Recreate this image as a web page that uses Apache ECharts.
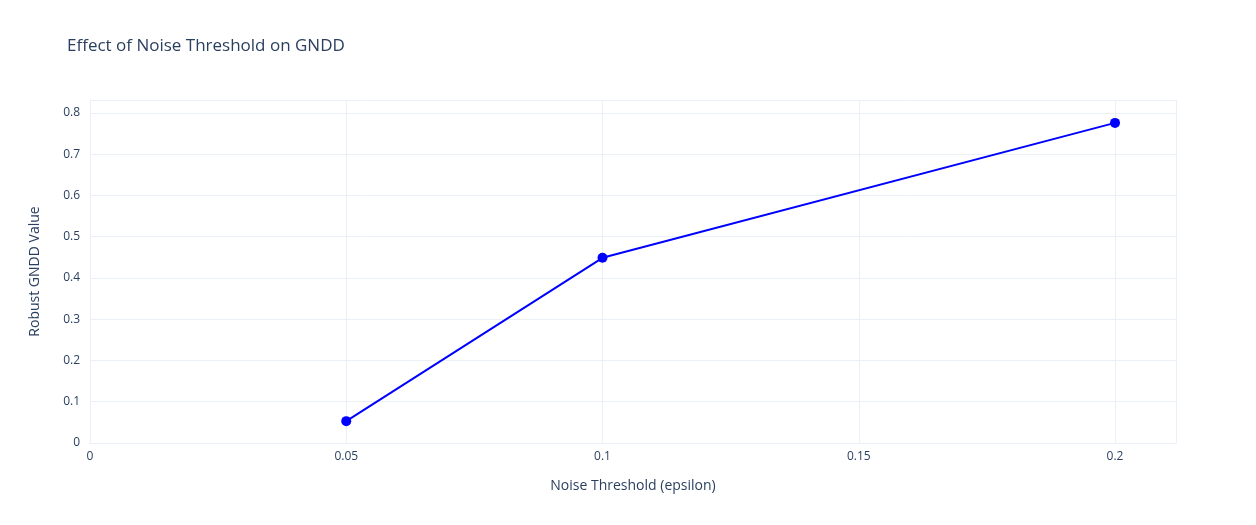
<!DOCTYPE html>
<html><head><meta charset="utf-8">
<script src="https://cdn.jsdelivr.net/npm/echarts@6/dist/echarts.min.js"></script>
<style>html,body{margin:0;padding:0;background:#fff}#c{width:1256px;height:525px}</style>
</head><body><div id="c"></div>
<script>
const epsilon = [0.05, 0.1, 0.2];
const gndd = [0.053, 0.449, 0.776];
const xTicks = [0, 0.05, 0.1, 0.15, 0.2];
const yTicks = [0, 0.1, 0.2, 0.3, 0.4, 0.5, 0.6, 0.7, 0.8];
const chart = echarts.init(document.getElementById('c'));
const font = '"Open Sans", Verdana, Arial, sans-serif';
chart.setOption({
  animation: false,
  textStyle: {fontFamily: font},
  title: {text: 'Effect of Noise Threshold on GNDD', left: 62, top: 33,
    textStyle: {fontSize: 17, fontWeight: 'normal', color: '#2a3f5f', fontFamily: font}},
  grid: {left: 90, right: 80, top: 100, bottom: 82},
  xAxis: {type: 'value', min: 0, max: 0.2119, interval: 0.05,
    name: 'Noise Threshold (epsilon)', nameLocation: 'middle', nameGap: 36,
    nameTextStyle: {fontSize: 14, color: '#2a3f5f'},
    axisLine: {show: true, lineStyle: {color: '#ebf0f8'}}, axisTick: {show: false},
    axisLabel: {color: '#2a3f5f', fontSize: 12, margin: 8,
      formatter: v => xTicks.some(t => Math.abs(t - v) < 1e-9) ? String(+v.toFixed(2)) : ''},
    splitLine: {show: true, lineStyle: {color: '#ebf0f8'}}},
  yAxis: {type: 'value', min: 0, max: 0.8315, interval: 0.1,
    name: 'Robust GNDD Value', nameLocation: 'middle', nameGap: 48,
    nameTextStyle: {fontSize: 14, color: '#2a3f5f'},
    axisLine: {show: true, lineStyle: {color: '#ebf0f8'}}, axisTick: {show: false},
    axisLabel: {color: '#2a3f5f', fontSize: 12, margin: 10,
      formatter: v => yTicks.some(t => Math.abs(t - v) < 1e-9) ? String(+v.toFixed(1)) : ''},
    splitLine: {show: true, lineStyle: {color: '#ebf0f8'}}},
  series: [{type: 'line', data: epsilon.map((x, i) => [x, gndd[i]]),
    symbol: 'circle', symbolSize: 10, color: '#0000ff',
    lineStyle: {width: 2, color: '#0000ff'}, itemStyle: {color: '#0000ff'}}]
});
</script></body></html>
